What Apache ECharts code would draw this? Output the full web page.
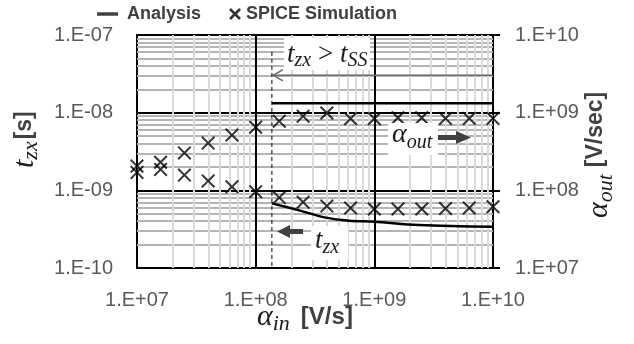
<!DOCTYPE html>
<html><head><meta charset="utf-8">
<script src="https://cdn.jsdelivr.net/npm/echarts@6/dist/echarts.min.js"></script>
<style>html,body{margin:0;padding:0;background:#fff}#c{width:634px;height:344px}</style>
</head><body><div id="c"></div>
<script>
// ---------- data ----------
const xSim = [1.0e7, 1.58e7, 2.51e7, 3.98e7, 6.31e7, 1.0e8, 1.58e8, 2.51e8, 3.98e8, 6.31e8, 1.0e9, 1.58e9, 2.51e9, 3.98e9, 6.31e9, 1.0e10];
const tzxSim = [1.70e-9, 1.86e-9, 1.57e-9, 1.32e-9, 1.11e-9, 9.6e-10, 8.07e-10, 7.03e-10, 6.28e-10, 5.92e-10, 5.75e-10, 5.75e-10, 5.75e-10, 5.84e-10, 5.92e-10, 6.15e-10];
const alphaOutSim = [2.05e8, 2.3e8, 3.03e8, 4.06e8, 5.14e8, 6.51e8, 7.78e8, 9.02e8, 9.9e8, 8.37e8, 8.37e8, 8.6e8, 8.6e8, 8.43e8, 8.43e8, 8.43e8];
const xTzxAnalysis = [1.37e8, 2.24e8, 3.9e8, 6.12e8, 1.0e9, 2.37e9, 1.0e10];
const tzxAnalysis = [6.8e-10, 5.6e-10, 4.45e-10, 4.07e-10, 3.95e-10, 3.58e-10, 3.4e-10];
const xAlphaAnalysis = [1.37e8, 1.0e10];
const alphaOutAnalysis = [1.32e9, 1.32e9];
const tSSBoundaryX = 1.37e8;
const boundaryLineY = [6.05e-8, 1.0e-10];
const tSSArrowY = 3.03e-8;

const xTickValues = [1e7, 1e8, 1e9, 1e10];
const xTickLabels = ['1.E+07', '1.E+08', '1.E+09', '1.E+10'];
const yLeftTickValues = [1e-10, 1e-9, 1e-8, 1e-7];
const yLeftTickLabels = ['1.E-10', '1.E-09', '1.E-08', '1.E-07'];
const yRightTickValues = [1e7, 1e8, 1e9, 1e10];
const yRightTickLabels = ['1.E+07', '1.E+08', '1.E+09', '1.E+10'];

const legendLabels = ['Analysis', 'SPICE Simulation'];

// ---------- helpers ----------
const zip = (a, b) => a.map((v, i) => [v, b[i]]);
function fmt(ticks, labels) {
  return v => {
    for (let i = 0; i < ticks.length; i++) {
      if (Math.abs(Math.log10(v) - Math.log10(ticks[i])) < 1e-6) return labels[i];
    }
    return '';
  };
}
function minorValues(ticks) {
  const out = [];
  for (let i = 0; i < ticks.length - 1; i++) for (let m = 2; m <= 9; m++) out.push(ticks[i] * m);
  return out;
}
const ctx = document.createElement('canvas').getContext('2d');
function tw(font, s) { ctx.font = font; return ctx.measureText(s).width; }
const SERIF = '"Liberation Serif","Times New Roman",serif';
const SANS = '"Liberation Sans",Arial,sans-serif';
// pieces: {s, size, font, dy, gap}
function mathText(pieces, x, y, rot, fill) {
  let cx = 0; const children = [];
  for (const p of pieces) {
    if (p.gap) { cx += p.gap; continue; }
    const font = p.font + ' ' + p.size + 'px ' + (p.fam || SERIF);
    children.push({ type: 'text', x: cx, y: (p.dy || 0) - 0.34 * p.size, z: 100,
      style: { text: p.s, font: font, fill: p.fill || fill || '#1a1a1a', align: 'left', verticalAlign: 'middle' } });
    cx += tw(font, p.s);
  }
  return { type: 'group', x: x, y: y, rotation: rot || 0, z: 100, children: children };
}

const CROSS = 'path://M2,0 L10,8 L18,0 L20,2 L12,10 L20,18 L18,20 L10,12 L2,20 L0,18 L8,10 L0,2 Z';
const CHEVRON = 'path://M10,0 L0,6 L10,12 L10,10.4 L2.6,6 L10,1.6 Z';

const labelStyle = { fontFamily: SANS, fontSize: 20, color: '#595959' };

const chart = echarts.init(document.getElementById('c'), null, { renderer: 'canvas' });

const hMinor = minorValues(yLeftTickValues).map(v => ({ yAxis: v }));
const hMajor = [1e-9, 1e-8].map(v => ({ yAxis: v, lineStyle: { color: '#000', width: 2 } }));
const vMinor = minorValues(xTickValues).map(v => ({ xAxis: v }));
const vMajor = [1e8, 1e9].map(v => ({ xAxis: v }));

function gridSeries(z, data, color) {
  return {
    type: 'line', data: [], z: z, silent: true, xAxisIndex: 0, yAxisIndex: 0,
    markLine: { silent: true, animation: false, precision: 20, symbol: ['none', 'none'], label: { show: false },
      lineStyle: { color: color, width: 2, type: 'solid' }, data: data }
  };
}

const option = {
  animation: false,
  backgroundColor: '#fff',
  grid: { left: 137, top: 35, width: 356, height: 233, show: true, z: 4, borderColor: '#000', borderWidth: 2, backgroundColor: 'transparent' },
  xAxis: {
    type: 'log', logBase: 10, min: 1e7, max: 1e10, z: 4,
    axisLine: { show: true, onZero: false, lineStyle: { color: '#000', width: 2 } },
    axisTick: { show: false }, splitLine: { show: false }, minorTick: { show: false },
    axisLabel: Object.assign({ margin: 22, formatter: fmt(xTickValues, xTickLabels) }, labelStyle)
  },
  yAxis: [
    {
      type: 'log', logBase: 10, min: 1e-10, max: 1e-7, position: 'left', z: 4,
      axisLine: { show: true, onZero: false, lineStyle: { color: '#000', width: 2 } },
      axisTick: { show: false }, splitLine: { show: false },
      axisLabel: Object.assign({ margin: 24, formatter: fmt(yLeftTickValues, yLeftTickLabels) }, labelStyle)
    },
    {
      type: 'log', logBase: 10, min: 1e7, max: 1e10, position: 'right', z: 4,
      axisLine: { show: true, onZero: false, lineStyle: { color: '#000', width: 2 } },
      axisTick: { show: true, length: 7, lineStyle: { color: '#000', width: 2 } }, splitLine: { show: false },
      axisLabel: Object.assign({ margin: 22, formatter: fmt(yRightTickValues, yRightTickLabels) }, labelStyle)
    }
  ],
  series: [
    gridSeries(1, hMinor.concat(hMajor), '#b4b4b4'),
    gridSeries(2, vMinor, '#dadada'),
    gridSeries(3, vMajor, '#000'),
    {
      type: 'line', name: 'boundary', yAxisIndex: 0, z: 5, symbol: 'none', silent: true,
      data: boundaryLineY.map(y => [tSSBoundaryX, y]),
      lineStyle: { color: '#000', width: 1, type: [4, 3] }
    },
    {
      type: 'line', name: 'tss arrow', yAxisIndex: 0, z: 5, silent: true, showSymbol: true,
      data: [
        { value: [tSSBoundaryX, tSSArrowY], symbol: CHEVRON, symbolSize: [11, 13], symbolOffset: [5.5, 0] },
        { value: [xTickValues[3], tSSArrowY], symbol: 'none' }
      ],
      lineStyle: { color: '#6a6a6a', width: 1.5 }, itemStyle: { color: '#6a6a6a' }
    },
    {
      type: 'line', name: legendLabels[0], yAxisIndex: 1, z: 6, symbol: 'none',
      data: zip(xAlphaAnalysis, alphaOutAnalysis), lineStyle: { color: '#000', width: 2.5 }
    },
    {
      type: 'line', name: legendLabels[0] + ' tzx', yAxisIndex: 0, z: 6, symbol: 'none', smooth: 0.35,
      data: zip(xTzxAnalysis, tzxAnalysis), lineStyle: { color: '#000', width: 2.5 }
    },
    {
      type: 'scatter', name: legendLabels[1], yAxisIndex: 0, z: 7, symbol: CROSS, symbolSize: 14,
      data: zip(xSim, tzxSim), itemStyle: { color: '#000' }
    },
    {
      type: 'scatter', name: legendLabels[1] + ' alpha', yAxisIndex: 1, z: 7, symbol: CROSS, symbolSize: 14,
      data: zip(xSim, alphaOutSim), itemStyle: { color: '#000' }
    }
  ],
  graphic: [
    // legend
    { type: 'line', z: 100, shape: { x1: 97, y1: 14, x2: 118, y2: 14 }, style: { stroke: '#404040', lineWidth: 3.5 } },
    { type: 'text', z: 100, x: 127, y: 14, style: { text: legendLabels[0], font: 'bold 18px ' + SANS, fill: '#404040', align: 'left', verticalAlign: 'middle' } },
    { type: 'line', z: 100, shape: { x1: 230, y1: 9, x2: 240, y2: 19 }, style: { stroke: '#333', lineWidth: 2.6 } },
    { type: 'line', z: 100, shape: { x1: 230, y1: 19, x2: 240, y2: 9 }, style: { stroke: '#333', lineWidth: 2.6 } },
    { type: 'text', z: 100, x: 246, y: 14, style: { text: legendLabels[1], font: 'bold 18px ' + SANS, fill: '#404040', align: 'left', verticalAlign: 'middle' } },
    // axis titles
    mathText([
      { s: 't', size: 30, font: 'italic' },
      { s: 'zx', size: 22, font: 'italic', dy: 4 },
      { gap: 2 },
      { s: '[s]', size: 23, font: 'bold', fam: SANS, fill: '#404040', dy: -3 }
    ], 35, 168, Math.PI / 2),
    mathText([
      { s: 'α', size: 30, font: 'italic' },
      { s: 'in', size: 22, font: 'italic', dy: 5 },
      { gap: 11 },
      { s: '[V/s]', size: 24, font: 'bold', fam: SANS, fill: '#404040', dy: -1 }
    ], 257, 327, 0),
    mathText([
      { s: 'α', size: 30, font: 'italic' },
      { s: 'out', size: 22, font: 'italic', dy: 5 },
      { gap: 7 },
      { s: '[V/sec]', size: 23, font: 'bold', fam: SANS, fill: '#404040', dy: -6 }
    ], 609, 218, Math.PI / 2),
    // annotation boxes
    { type: 'rect', z: 99, shape: { x: 284, y: 38, width: 86, height: 32 }, style: { fill: '#fff' } },
    { type: 'rect', z: 99, shape: { x: 388, y: 123, width: 50, height: 32 }, style: { fill: '#fff' } },
    { type: 'rect', z: 99, shape: { x: 311, y: 226, width: 37, height: 34 }, style: { fill: '#fff' } },
    mathText([
      { s: 't', size: 27, font: 'italic' },
      { s: 'zx', size: 20, font: 'italic', dy: 4 },
      { s: ' > ', size: 27, font: 'normal' },
      { s: 't', size: 27, font: 'italic' },
      { s: 'SS', size: 20, font: 'italic', dy: 4 }
    ], 287, 64, 0),
    mathText([
      { s: 'α', size: 28, font: 'italic' },
      { s: 'out', size: 20, font: 'italic', dy: 6 }
    ], 392, 144, 0),
    mathText([
      { s: 't', size: 27, font: 'italic' },
      { s: 'zx', size: 20, font: 'italic', dy: 5 }
    ], 315, 250, 0),
    // filled arrows
    { type: 'rect', z: 100, shape: { x: 438, y: 135, width: 20, height: 5 }, style: { fill: '#404040' } },
    { type: 'polygon', z: 100, shape: { points: [[456, 131], [471, 137.5], [456, 144]] }, style: { fill: '#404040' } },
    { type: 'rect', z: 100, shape: { x: 287, y: 229, width: 16, height: 5 }, style: { fill: '#404040' } },
    { type: 'polygon', z: 100, shape: { points: [[277, 231.5], [290, 225], [290, 238]] }, style: { fill: '#404040' } }
  ]
};
chart.setOption(option);
</script>
</body></html>
